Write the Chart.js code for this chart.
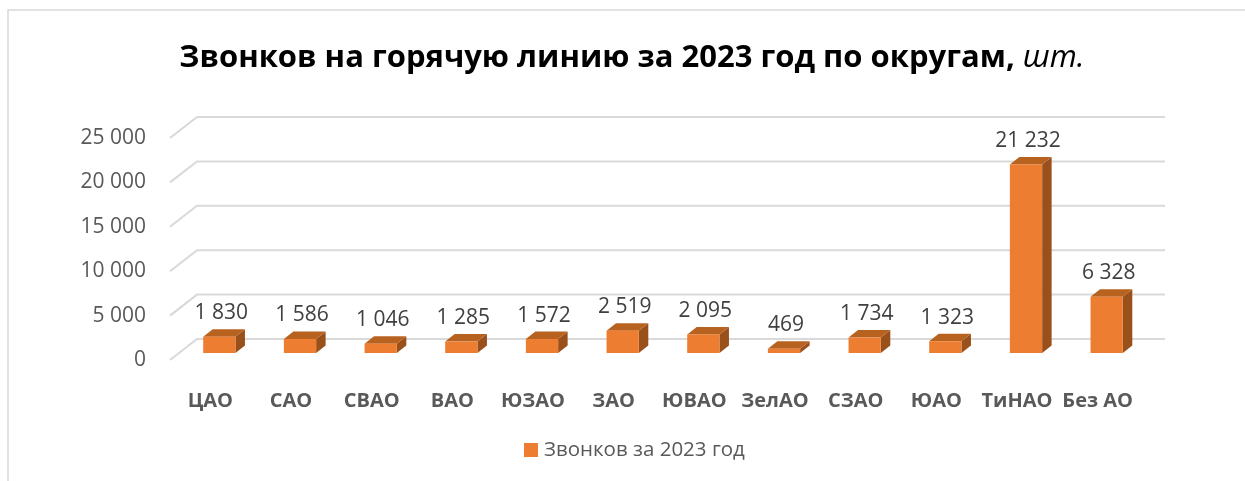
<!DOCTYPE html>
<html lang="ru">
<head>
<meta charset="utf-8">
<title>Звонков на горячую линию за 2023 год по округам</title>
<script src="https://cdn.jsdelivr.net/npm/chart.js@4.4.1/dist/chart.umd.min.js"></script>
<style>
  html, body { margin: 0; padding: 0; background: #ffffff; }
  #wrap { width: 1245px; height: 481px; position: relative; }
</style>
</head>
<body>
<div id="wrap"><canvas id="hotlineChart" width="1245" height="481"></canvas></div>
<script>
// данные
const districts = ['ЦАО', 'САО', 'СВАО', 'ВАО', 'ЮЗАО', 'ЗАО', 'ЮВАО', 'ЗелАО', 'СЗАО', 'ЮАО', 'ТиНАО', 'Без АО'];
const calls2023 = [1830, 1586, 1046, 1285, 1572, 2519, 2095, 469, 1734, 1323, 21232, 6328];
const yTicks = [0, 5000, 10000, 15000, 20000, 25000];
const seriesName = 'Звонков за 2023 год';
const titleMain = 'Звонков на горячую линию за 2023 год по округам, ';
const titleUnit = 'шт.';

const FONT = "'Open Sans', 'Noto Sans', sans-serif";
const COLORS = {
    front: '#ED7D31',
    top: '#B8621F',
    side: '#9A501B',
    grid: '#D9D9D9',
    axisText: '#595959',
    labelText: '#404040',
    frame: '#D9D9D9'
};

// глубина "3D" сцены
const DEPTH = { dx: 27, dy: -21 };
const BAR_SHIFT = { dx: 9, dy: -7 };
const BAR_DEPTH = { dx: 9.5, dy: -7.5 };

const fmt = (v) => String(v).replace(/\B(?=(\d{3})+(?!\d))/g, ' ');

const frameAndTitle = {
    id: 'frameAndTitle',
    beforeDraw(chart) {
        const ctx = chart.ctx;
        ctx.save();
        ctx.fillStyle = '#ffffff';
        ctx.fillRect(0, 0, chart.width, chart.height);
        ctx.strokeStyle = COLORS.frame;
        ctx.lineWidth = 1.5;
        ctx.beginPath();
        ctx.moveTo(8, chart.height);
        ctx.lineTo(8, 10);
        ctx.lineTo(chart.width, 10);
        ctx.stroke();

        // заголовок: жирная часть + курсив
        const boldFont = `bold 31px ${FONT}`;
        const italicFont = `italic 31px ${FONT}`;
        ctx.font = boldFont;
        const w1 = ctx.measureText(titleMain).width;
        ctx.font = italicFont;
        const w2 = ctx.measureText(titleUnit).width;
        const startX = 632 - (w1 + w2) / 2;
        ctx.textBaseline = 'alphabetic';
        ctx.textAlign = 'left';
        ctx.fillStyle = '#000000';
        ctx.font = boldFont;
        ctx.fillText(titleMain, startX, 67);
        ctx.font = italicFont;
        ctx.fillText(titleUnit, startX + w1, 67);

        // легенда
        ctx.fillStyle = COLORS.front;
        ctx.fillRect(524, 443, 14, 14);
        ctx.fillStyle = COLORS.axisText;
        ctx.font = `20.5px ${FONT}`;
        ctx.textBaseline = 'middle';
        ctx.fillText(chart.data.datasets[0].label, 544, 450);
        ctx.restore();
    }
};

const bars3d = {
    id: 'bars3d',
    beforeDatasetsDraw(chart) {
        const ctx = chart.ctx;
        const area = chart.chartArea;
        const yScale = chart.scales.y;
        ctx.save();

        // сетка в перспективе
        ctx.strokeStyle = COLORS.grid;
        ctx.lineWidth = 2;
        yScale.ticks.forEach(t => {
            const py = yScale.getPixelForValue(t.value);
            ctx.beginPath();
            ctx.moveTo(area.left, py);
            ctx.lineTo(area.left + DEPTH.dx, py + DEPTH.dy);
            ctx.lineTo(area.right + DEPTH.dx, py + DEPTH.dy);
            ctx.stroke();
        });

        const meta = chart.getDatasetMeta(0);
        meta.data.forEach((bar, i) => {
            const x0 = bar.x - bar.width / 2 + BAR_SHIFT.dx;
            const x1 = bar.x + bar.width / 2 + BAR_SHIFT.dx;
            const top = bar.y + BAR_SHIFT.dy;
            const bottom = bar.base + BAR_SHIFT.dy;

            // боковая грань
            ctx.fillStyle = COLORS.side;
            ctx.beginPath();
            ctx.moveTo(x1, top);
            ctx.lineTo(x1 + BAR_DEPTH.dx, top + BAR_DEPTH.dy);
            ctx.lineTo(x1 + BAR_DEPTH.dx, bottom + BAR_DEPTH.dy);
            ctx.lineTo(x1, bottom);
            ctx.closePath();
            ctx.fill();

            // верхняя грань
            ctx.fillStyle = COLORS.top;
            ctx.beginPath();
            ctx.moveTo(x0, top);
            ctx.lineTo(x0 + BAR_DEPTH.dx, top + BAR_DEPTH.dy);
            ctx.lineTo(x1 + BAR_DEPTH.dx, top + BAR_DEPTH.dy);
            ctx.lineTo(x1, top);
            ctx.closePath();
            ctx.fill();

            // передняя грань
            ctx.fillStyle = COLORS.front;
            ctx.fillRect(x0, top, x1 - x0, bottom - top);

            // подпись значения
            ctx.fillStyle = COLORS.labelText;
            ctx.font = `21px ${FONT}`;
            ctx.textAlign = 'center';
            ctx.textBaseline = 'middle';
            const v = chart.data.datasets[0].data[i];
            ctx.fillText(fmt(v), bar.x + BAR_SHIFT.dx + 2, top + BAR_DEPTH.dy - 16);
        });

        ctx.restore();
        return false; // стандартные столбцы не рисуем
    }
};

const canvas = document.getElementById('hotlineChart');
new Chart(canvas, {
    type: 'bar',
    data: {
        labels: districts,
        datasets: [{
            label: seriesName,
            data: calls2023,
            backgroundColor: COLORS.front,
            categoryPercentage: 1,
            barPercentage: 0.4
        }]
    },
    options: {
        responsive: false,
        animation: false,
        layout: { padding: { left: 0, top: 138, right: 107, bottom: 0 } },
        scales: {
            y: {
                min: 0,
                max: yTicks[yTicks.length - 1],
                afterFit: (s) => { s.width = 170; },
                afterBuildTicks: (s) => { s.ticks = yTicks.map(v => ({ value: v })); },
                grid: { display: false },
                border: { display: false },
                ticks: {
                    color: COLORS.axisText,
                    padding: 16,
                    font: { family: FONT, size: 21 },
                    callback: (v) => fmt(v)
                }
            },
            x: {
                afterFit: (s) => { s.height = 121; },
                grid: { display: false },
                border: { display: false },
                ticks: {
                    color: COLORS.axisText,
                    padding: 21,
                    autoSkip: false,
                    maxRotation: 0,
                    font: { family: FONT, size: 20, weight: 'bold' }
                }
            }
        },
        plugins: {
            legend: { display: false },
            title: { display: false },
            tooltip: { enabled: false }
        }
    },
    plugins: [frameAndTitle, bars3d]
});
</script>
</body>
</html>
